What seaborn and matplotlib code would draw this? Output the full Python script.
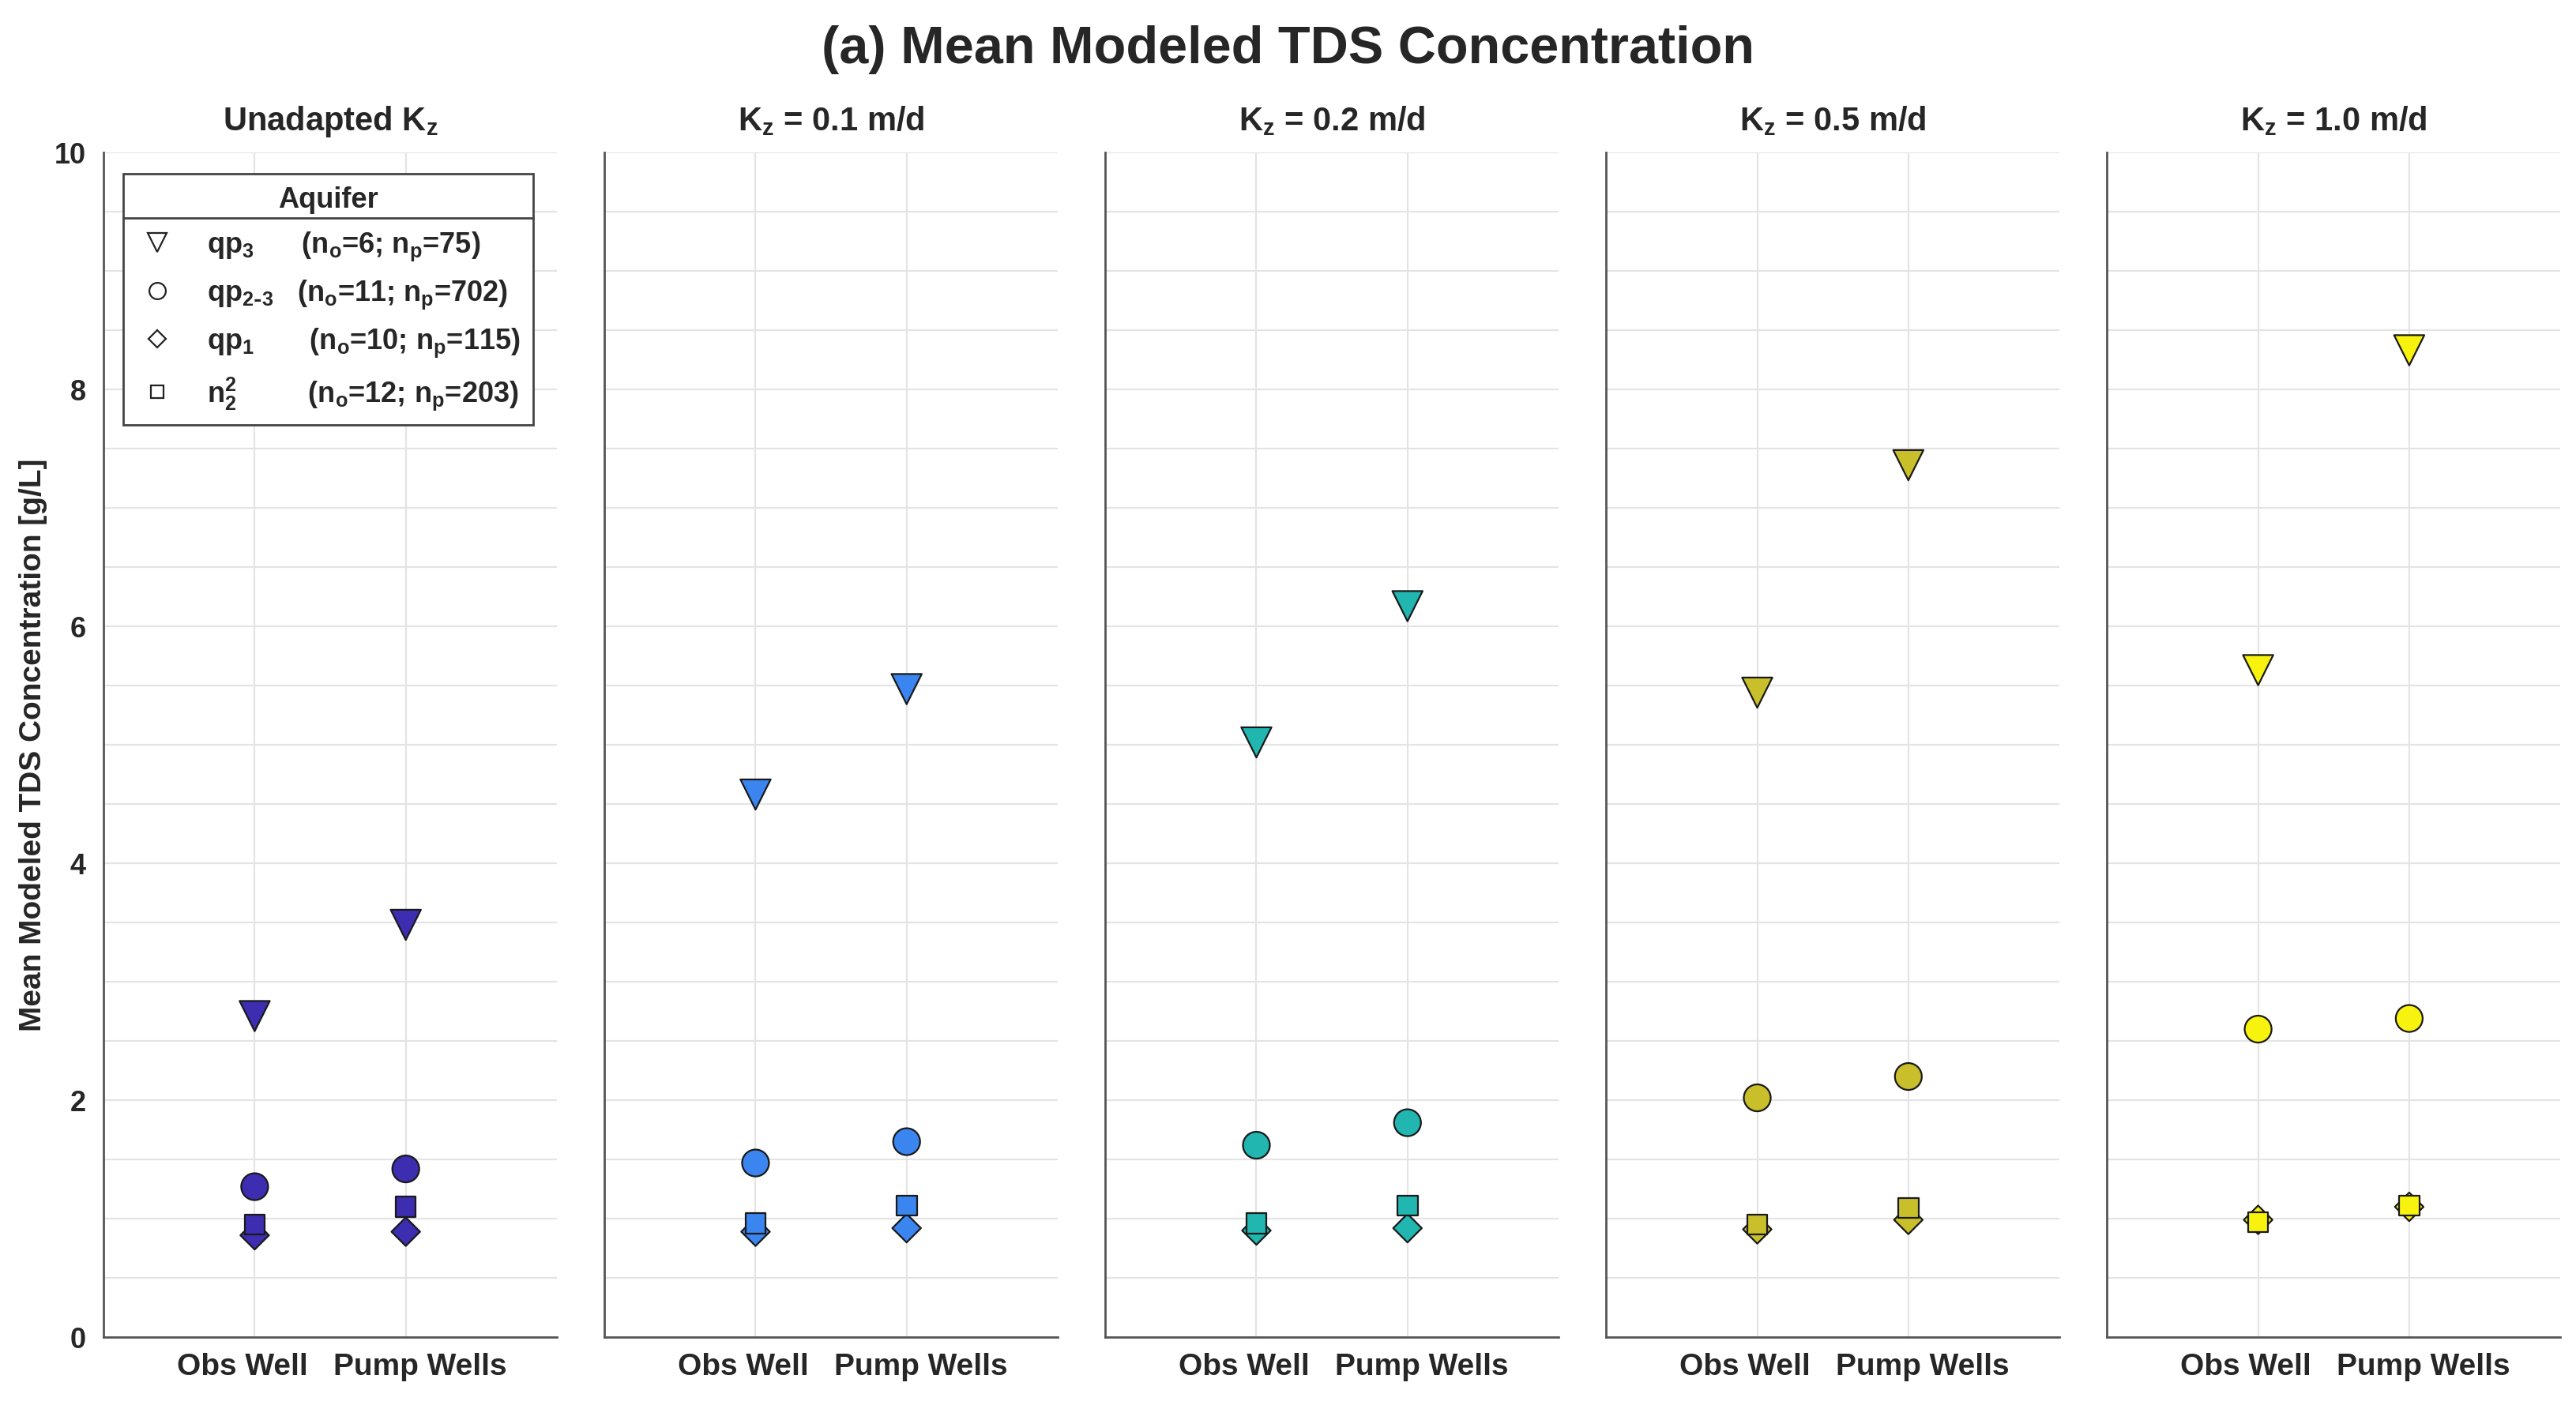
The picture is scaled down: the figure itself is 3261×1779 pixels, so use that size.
import numpy as np
import pandas as pd
import matplotlib
matplotlib.use("Agg")
import matplotlib.pyplot as plt
from matplotlib.lines import Line2D
from matplotlib.transforms import ScaledTranslation
import seaborn as sns

# values (g/L), one entry per panel
panel_titles = ["Unadapted K$_z$", "K$_z$ = 0.1 m/d", "K$_z$ = 0.2 m/d",
                "K$_z$ = 0.5 m/d", "K$_z$ = 1.0 m/d"]
panel_colors = ["#3d2db0", "#3a85ef", "#22b6b0", "#c9bf2b", "#f8f20f"]
wells = ["Obs Well", "Pump Wells"]
aquifers = ["qp3", "qp2-3", "qp1", "n22"]

qp3_obs = [2.71, 4.58, 5.02, 5.44, 5.63]
qp3_pump = [3.48, 5.47, 6.17, 7.36, 8.33]
qp23_obs = [1.27, 1.47, 1.62, 2.02, 2.60]
qp23_pump = [1.42, 1.65, 1.81, 2.20, 2.69]
qp1_obs = [0.86, 0.89, 0.90, 0.91, 0.99]
qp1_pump = [0.89, 0.92, 0.92, 0.99, 1.10]
n22_obs = [0.95, 0.96, 0.96, 0.95, 0.97]
n22_pump = [1.10, 1.11, 1.11, 1.09, 1.11]

legend_labels = [
    "qp$_3$      (n$_o$=6; n$_p$=75)",
    "qp$_{2\\text{-}3}$   (n$_o$=11; n$_p$=702)",
    "qp$_1$       (n$_o$=10; n$_p$=115)",
    "n$_2^2$         (n$_o$=12; n$_p$=203)",
]

values = {
    "qp3": (qp3_obs, qp3_pump),
    "qp2-3": (qp23_obs, qp23_pump),
    "qp1": (qp1_obs, qp1_pump),
    "n22": (n22_obs, n22_pump),
}
rows = []
for p in range(len(panel_titles)):
    for aq in aquifers:
        for w, series in zip(wells, values[aq]):
            rows.append({"panel": p, "aquifer": aq, "well": w, "tds": series[p]})
df = pd.DataFrame(rows)

marker_map = {"qp3": "v", "qp2-3": "o", "qp1": "D", "n22": "s"}
size_map = {"qp3": 190, "qp2-3": 150, "qp1": 85, "n22": 85}

sns.set_style("white")
plt.rcParams["font.family"] = ["Liberation Sans", "DejaVu Sans"]
plt.rcParams["font.weight"] = "bold"
plt.rcParams["axes.titleweight"] = "bold"
plt.rcParams["axes.labelweight"] = "bold"
plt.rcParams["mathtext.default"] = "regular"

ink = "#262626"
fig, axes = plt.subplots(1, 5, figsize=(16.31, 8.895), dpi=200, sharey=True)
fig.subplots_adjust(left=0.0402, right=0.9936, bottom=0.0483, top=0.8915, wspace=0.105)

# the original pushes the two category labels slightly apart
label_shift = [-5.5, 6.5]

for i, ax in enumerate(axes):
    sub = df[df["panel"] == i]
    sns.scatterplot(data=sub, x="well", y="tds", style="aquifer", markers=marker_map,
                    size="aquifer", sizes=size_map, color=panel_colors[i],
                    edgecolor="#1a1a1a", linewidth=0.8, legend=False, ax=ax, zorder=3)
    ax.set_xlim(-1, 2)
    ax.set_ylim(0, 10)
    ax.set_yticks(np.arange(0, 11, 2))
    ax.set_yticks(np.arange(0, 10.01, 0.5), minor=True)
    ax.set_axisbelow(True)
    ax.grid(True, which="both", axis="y", color="#e4e4e4", lw=0.8)
    ax.grid(True, which="major", axis="x", color="#e4e4e4", lw=0.8)
    for s in ["top", "right"]:
        ax.spines[s].set_visible(False)
    for s in ["left", "bottom"]:
        ax.spines[s].set_color("#555555")
        ax.spines[s].set_linewidth(1.0)
    ax.tick_params(axis="y", which="major", direction="in", length=5, width=0.8,
                   color="#555555", labelsize=13, labelcolor=ink, pad=8)
    ax.tick_params(axis="x", which="major", direction="in", length=5, width=0.8,
                   color="#555555", labelsize=14, labelcolor=ink, pad=7)
    ax.tick_params(axis="y", which="minor", direction="in", length=2.5, width=0.6,
                   color="#555555")
    for lab, dx in zip(ax.get_xticklabels(), label_shift):
        lab.set_transform(lab.get_transform() + ScaledTranslation(dx / 72, 0, fig.dpi_scale_trans))
    ax.set_xlabel("")
    ax.set_ylabel("")
    ax.set_title(panel_titles[i], fontsize=15, color=ink, pad=10)

axes[0].set_ylabel("Mean Modeled TDS Concentration [g/L]", fontsize=14, color=ink, labelpad=3)

# hollow markers for the legend
handles = [
    Line2D([], [], ls="none", marker="v", ms=8.5, mfc="white", mec="#222222", mew=0.8),
    Line2D([], [], ls="none", marker="o", ms=7.5, mfc="white", mec="#222222", mew=0.8),
    Line2D([], [], ls="none", marker="D", ms=5.5, mfc="white", mec="#222222", mew=0.8),
    Line2D([], [], ls="none", marker="s", ms=5.5, mfc="white", mec="#222222", mew=0.8),
]
leg = axes[0].legend(handles, legend_labels, title="Aquifer", loc="upper left",
                     bbox_to_anchor=(0.043, 0.982), borderaxespad=0, fontsize=13,
                     title_fontsize=13, frameon=True, fancybox=False,
                     edgecolor="#444444", framealpha=1, labelspacing=0.55,
                     handletextpad=1.0, borderpad=0.45, handlelength=1.5)
leg.get_frame().set_linewidth(1.0)
leg.get_title().set_fontweight("bold")

fig.suptitle("(a) Mean Modeled TDS Concentration", fontsize=24, fontweight="bold",
             color=ink, y=0.982)

# separator under the legend title, like the original
fig.canvas.draw()
r = fig.canvas.get_renderer()
fb = leg.get_frame().get_window_extent(r)
tb = leg.get_title().get_window_extent(r)
ysep = tb.y0 - 5
inv = fig.transFigure.inverted()
(x0, y0), (x1, _) = inv.transform([(fb.x0, ysep), (fb.x1, ysep)])
fig.add_artist(Line2D([x0, x1], [y0, y0], transform=fig.transFigure,
                      color="#444444", lw=1.0, zorder=10))

fig.savefig("out.png", dpi=200)
